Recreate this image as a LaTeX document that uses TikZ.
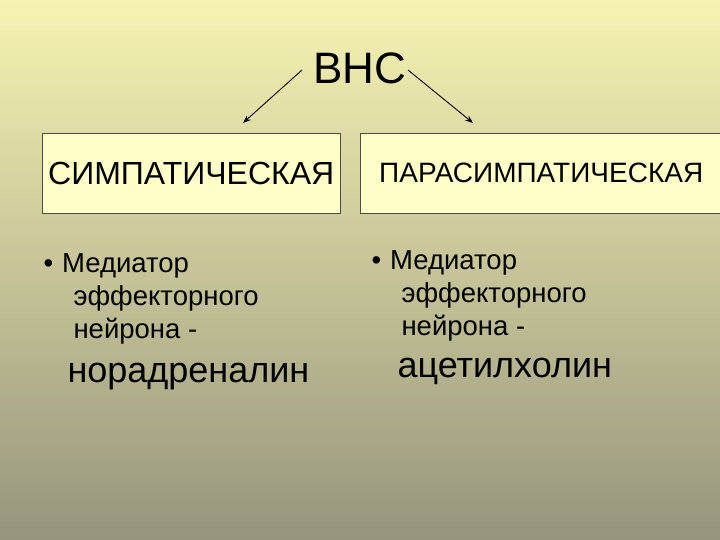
\documentclass[tikz,border=0pt]{standalone}
\usepackage{fontspec}
\setmainfont{Liberation Sans}
\usetikzlibrary{arrows.meta}
\begin{document}
\begin{tikzpicture}[x=1pt,y=-1pt,
  box/.style={draw=black!70,fill={rgb,255:red,255;green,255;blue,200},minimum width=#1,minimum height=80pt,anchor=north west,inner sep=0pt},
  arr/.style={-{Stealth[length=8pt,width=6pt]},line width=0.9pt},
  txt/.style={anchor=north west,align=left,font=\fontsize{27.5}{33}\selectfont}]
\shade[top color={rgb,255:red,246;green,243;blue,178},bottom color={rgb,255:red,150;green,149;blue,125}] (0,0) rectangle (720,540);
\useasboundingbox (0,0) rectangle (720,540);
\node[font=\fontsize{44}{46}\selectfont] (vns) at (360,68) {ВНС};
\node[box=298pt,font=\fontsize{32}{34}\selectfont] (s) at (42,133) {СИМПАТИЧЕСКАЯ};
\node[box=362pt,font=\fontsize{28}{30}\selectfont] (p) at (360,133) {ПАРАСИМПАТИЧЕСКАЯ};
\coordinate (a1) at (302,70); \coordinate (a2) at (243,123);
\coordinate (b1) at (408,70); \coordinate (b2) at (473,123);
\draw[arr] (a1) -- (a2);
\draw[arr] (b1) -- (b2);
\node[txt] (l1) at (40,250) {•\hspace{9pt}Медиатор\\\hspace{30pt}эффекторного\\\hspace{30pt}нейрона -};
\node[anchor=north west,font=\fontsize{36}{38}\selectfont] (l2) at (64,360) {норадреналин};
\node[txt] (r1) at (368,247) {•\hspace{9pt}Медиатор\\\hspace{30pt}эффекторного\\\hspace{30pt}нейрона -};
\node[anchor=north west,font=\fontsize{36}{38}\selectfont] (r2) at (394,355) {ацетилхолин};
\end{tikzpicture}
\end{document}
